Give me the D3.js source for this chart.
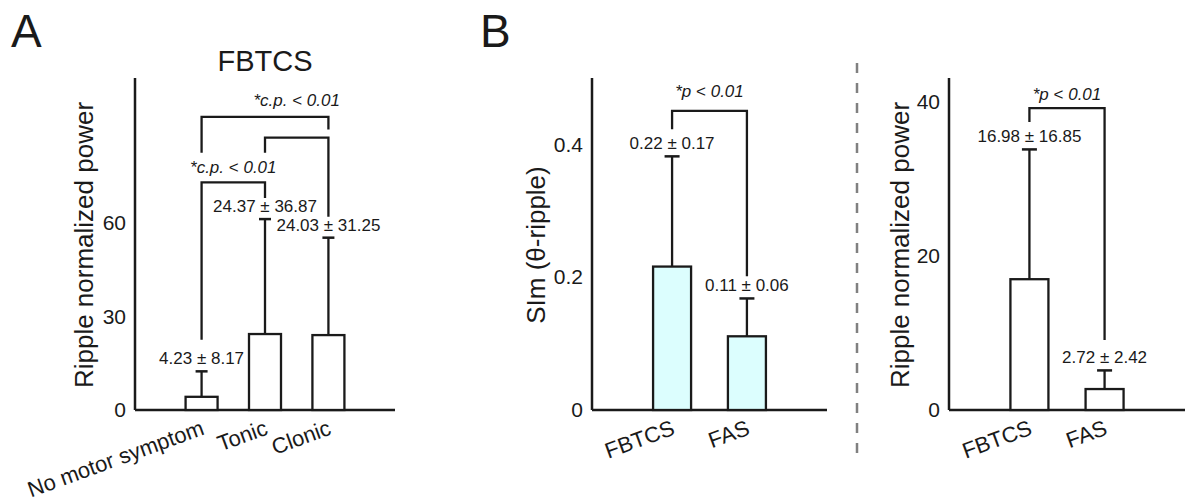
<!DOCTYPE html>
<html>
<head>
<meta charset="utf-8">
<script src="https://d3js.org/d3.v7.min.js"></script>
<style>
  body { margin: 0; background: #fff; }
  text { font-family: "Liberation Sans", Arial, sans-serif; fill: #1a1a1a; }
</style>
</head>
<body>
<div id="chart"></div>
<script>
// ---- data ----
// Panel A: FBTCS, ripple normalized power by motor symptom
var catsA = ["No motor symptom", "Tonic", "Clonic"];
var meanA = [4.23, 24.37, 24.03];
var sdA = [8.17, 36.87, 31.25];
var textA = ["4.23 ± 8.17", "24.37 ± 36.87", "24.03 ± 31.25"];
var ticksA = [0, 30, 60];

// Panel B (left): SIm theta-ripple
var catsB = ["FBTCS", "FAS"];
var meanB1 = [0.216, 0.111];
var sdB1 = [0.166, 0.057];
var textB1 = ["0.22 ± 0.17", "0.11 ± 0.06"];
var ticksB1 = [0, 0.2, 0.4];

// Panel B (right): ripple normalized power
var meanB2 = [16.98, 2.72];
var sdB2 = [16.85, 2.42];
var textB2 = ["16.98 ± 16.85", "2.72 ± 2.42"];
var ticksB2 = [0, 20, 40];

// significance brackets: [catA, catB, level, leg end A, leg end B] in data units
var bracketsA = [[0, 1, 73, 22.5, 68], [0, 2, 94, 82.5, 90], [1, 2, 87.4, 82.5, 62]];
var sigA = [[0, 1, 76.1], [1, 2, 97.5]];
var bracketsB1 = [[0, 1, 0.4506, 0.423, 0.2014]];
var sigB1 = [[0, 1, 0.471]];
var bracketsB2 = [[0, 1, 39.2, 37.4, 9.1]];
var sigB2 = [[0, 1, 40.3]];

var W = 1185, H = 501;
var ink = "#1a1a1a";

var svg = d3.select("#chart").append("svg")
  .attr("width", W).attr("height", H);

function drawPanel(p) {
  var g = svg.append("g");
  var x = d3.scalePoint().domain(d3.range(p.cats.length))
    .range([p.left, p.right]).padding(p.pad);
  var y = d3.scaleLinear().domain([0, p.ymax]).range([410, 78]);

  // y axis (line + labels, no tick marks)
  var ya = g.append("g")
    .attr("transform", "translate(" + p.left + ",0)")
    .call(d3.axisLeft(y).tickValues(p.ticks).tickSize(0).tickPadding(9)
      .tickFormat(p.fmt));
  ya.select(".domain").remove();
  ya.selectAll("text").style("font-size", "21px")
    .style("font-family", "'Liberation Sans', Arial, sans-serif").attr("fill", ink);
  g.append("line")
    .attr("x1", p.left).attr("x2", p.left)
    .attr("y1", y(p.ymax)).attr("y2", y(0))
    .attr("stroke", ink).attr("stroke-width", 2.5);
  g.append("line")
    .attr("x1", p.left).attr("x2", p.right)
    .attr("y1", y(0)).attr("y2", y(0))
    .attr("stroke", ink).attr("stroke-width", 2.5);

  // bars
  g.selectAll("rect.bar").data(p.mean).enter().append("rect")
    .attr("class", "bar")
    .attr("x", function(d, i) { return x(i) - p.bw / 2; })
    .attr("y", function(d) { return y(d); })
    .attr("width", p.bw)
    .attr("height", function(d) { return y(0) - y(d); })
    .attr("fill", p.fill).attr("stroke", ink).attr("stroke-width", 2.3);

  // error bars (upper only)
  p.mean.forEach(function(m, i) {
    var top = y(m + p.sd[i]);
    g.append("line").attr("x1", x(i)).attr("x2", x(i))
      .attr("y1", y(m)).attr("y2", top)
      .attr("stroke", ink).attr("stroke-width", 2.3);
    g.append("line").attr("x1", x(i) - p.cap / 2).attr("x2", x(i) + p.cap / 2)
      .attr("y1", top).attr("y2", top)
      .attr("stroke", ink).attr("stroke-width", 2.5);
    g.append("text").attr("x", x(i)).attr("y", top - 7)
      .attr("text-anchor", "middle").style("font-size", "17px")
      .text(p.labels[i]);
  });

  // brackets
  p.brackets.forEach(function(b) {
    var pts = [[x(b[0]), y(b[3])], [x(b[0]), y(b[2])], [x(b[1]), y(b[2])], [x(b[1]), y(b[4])]];
    g.append("path").attr("d", d3.line()(pts))
      .attr("fill", "none").attr("stroke", ink).attr("stroke-width", 2.3);
  });
  p.sig.forEach(function(s) {
    var t = g.append("text")
      .attr("x", (x(s[0]) + x(s[1])) / 2).attr("y", y(s[2]))
      .attr("text-anchor", "middle").style("font-size", "17px");
    t.append("tspan").style("font-style", "italic").text(p.sigText);
    t.append("tspan").text(" < ");
    t.append("tspan").style("font-style", "italic").text("0.01");
  });

  // category labels, rotated
  p.cats.forEach(function(c, i) {
    g.append("text")
      .attr("transform", "translate(" + (x(i) + 4) + ",434) rotate(-20)")
      .attr("text-anchor", "end").style("font-size", "22px")
      .text(c);
  });

  // y title
  g.append("text")
    .attr("transform", "translate(" + p.titleX + ",245) rotate(-90)")
    .attr("text-anchor", "middle").style("font-size", "26px")
    .text(p.ytitle);
  return x;
}

var xA = drawPanel({
  cats: catsA, mean: meanA, sd: sdA, labels: textA, ticks: ticksA,
  left: 135, right: 395, pad: 1.05, ymax: 106.5, bw: 32, cap: 12,
  fill: "#ffffff", fmt: d3.format("d"),
  brackets: bracketsA, sig: sigA, sigText: "*c.p.",
  ytitle: "Ripple normalized power", titleX: 93
});
drawPanel({
  cats: catsB, mean: meanB1, sd: sdB1, labels: textB1, ticks: ticksB1,
  left: 592, right: 827, pad: 1.07, ymax: 0.5, bw: 38, cap: 15,
  fill: "#dcfefe", fmt: function(d) { return d === 0 ? "0" : d3.format(".1f")(d); },
  brackets: bracketsB1, sig: sigB1, sigText: "*p",
  ytitle: "SIm (θ-ripple)", titleX: 545
});
drawPanel({
  cats: catsB, mean: meanB2, sd: sdB2, labels: textB2, ticks: ticksB2,
  left: 949, right: 1185, pad: 1.07, ymax: 43.1, bw: 38, cap: 15,
  fill: "#ffffff", fmt: d3.format("d"),
  brackets: bracketsB2, sig: sigB2, sigText: "*p",
  ytitle: "Ripple normalized power", titleX: 909
});

// panel A title
svg.append("text").attr("x", (xA(0) + xA(2)) / 2).attr("y", 71)
  .attr("text-anchor", "middle").style("font-size", "29px").text("FBTCS");

// panel letters
svg.append("text").attr("x", 11).attr("y", 47).style("font-size", "46px").text("A");
svg.append("text").attr("x", 480).attr("y", 47).style("font-size", "46px").text("B");

// dashed separator
svg.append("line")
  .attr("x1", 857).attr("x2", 857).attr("y1", 63).attr("y2", 460)
  .attr("stroke", "#808080").attr("stroke-width", 2.5)
  .attr("stroke-dasharray", "10,10");
</script>
</body>
</html>
